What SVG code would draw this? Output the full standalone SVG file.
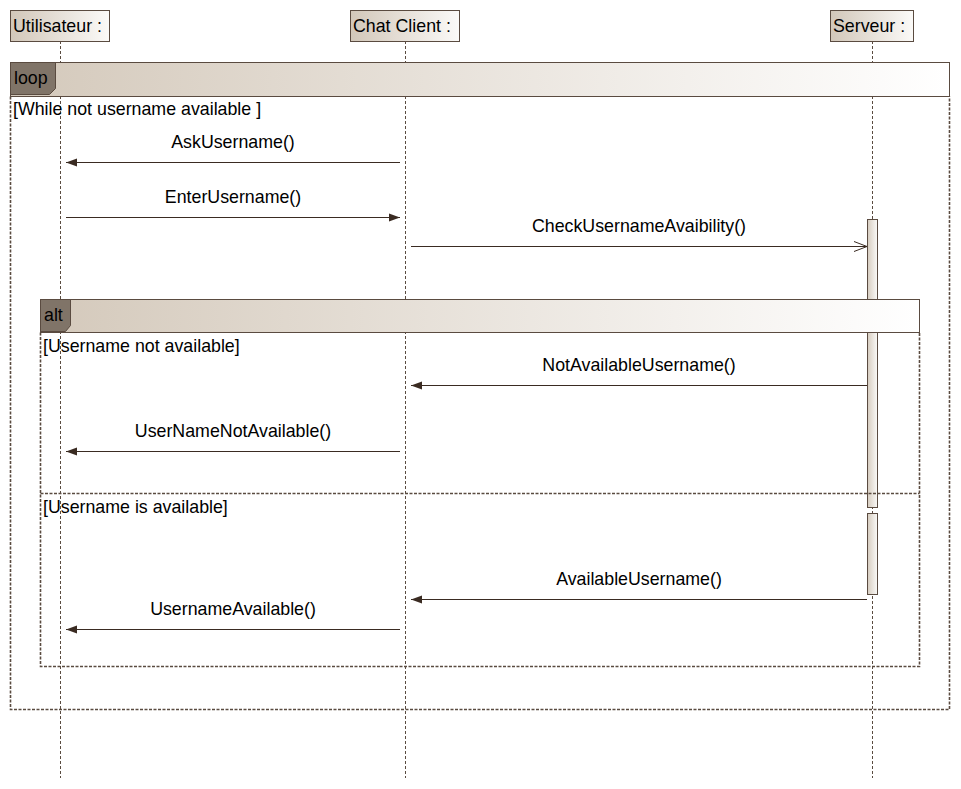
<svg xmlns="http://www.w3.org/2000/svg" width="961" height="789" viewBox="0 0 961 789">
<defs>
<linearGradient id="gBox" x1="0" y1="0" x2="1" y2="0"><stop offset="0" stop-color="#d2c7b9"/><stop offset="1" stop-color="#fbfaf8"/></linearGradient>
<linearGradient id="gHead" x1="0" y1="0" x2="1" y2="0"><stop offset="0" stop-color="#d4c9bb"/><stop offset="1" stop-color="#ffffff"/></linearGradient>
<linearGradient id="gAct" x1="0" y1="0" x2="1" y2="0"><stop offset="0" stop-color="#d6ccbf"/><stop offset="1" stop-color="#fbfaf8"/></linearGradient>
<marker id="filled" markerWidth="12" markerHeight="10" refX="11" refY="5" orient="auto" markerUnits="userSpaceOnUse"><path d="M0,1 L11,5 L0,9 Z" fill="#3a2b22"/></marker>
<marker id="open" markerWidth="14" markerHeight="12" refX="13" refY="6" orient="auto" markerUnits="userSpaceOnUse"><path d="M0,1 L13,6 L0,11" fill="none" stroke="#3a2b22" stroke-width="1"/></marker>
<style>
text{font-family:"Liberation Sans",Arial,sans-serif;font-size:17.8px;fill:#000}
.box{fill:url(#gBox);stroke:#5a4b40;stroke-width:1}
.life{stroke:#5a4b40;stroke-width:1;stroke-dasharray:3,2;fill:none}
.msg{stroke:#3a2b22;stroke-width:1.2;fill:none}
.dash{stroke:#5a4b40;stroke-width:1;stroke-dasharray:3,2;fill:none}
.fdash{stroke:#5a4b40;stroke-width:1.6;stroke-dasharray:3,1.5;fill:none}
.head{fill:url(#gHead);stroke:#5a4b40;stroke-width:1}
.tab{fill:#807468;stroke:#5a4b40;stroke-width:1}
.act{fill:url(#gAct);stroke:#5a4b40;stroke-width:1}
.mid{text-anchor:middle}
</style>
</defs>
<rect width="961" height="789" fill="#fff"/>
<g id="lifelines">
<line class="life" x1="60.5" y1="41" x2="60.5" y2="778"/>
<line class="life" x1="405.5" y1="41" x2="405.5" y2="778"/>
<line class="life" x1="872.5" y1="41" x2="872.5" y2="778"/>
</g>
<g id="loop">
<rect class="head" x="10.5" y="62.5" width="939" height="34"/>
<path class="tab" d="M10.5,62.5 H55.5 V88.5 L49.5,94.5 H10.5 Z"/>
<text x="14" y="84">loop</text>
<path class="fdash" d="M10.5,96.5 V709.5 H949.5 V96.5"/>
<line class="dash" x1="10.5" y1="96.5" x2="949.5" y2="96.5"/>
<text x="13" y="115">[While not username available ]</text>
</g>
<g id="participants">
<g id="utilisateur"><rect class="box" x="10.5" y="10.5" width="99" height="31"/><text x="13" y="32">Utilisateur :</text></g>
<g id="chatclient"><rect class="box" x="350.5" y="10.5" width="109" height="31"/><text x="353" y="32">Chat Client :</text></g>
<g id="serveur"><rect class="box" x="830.5" y="10.5" width="83" height="31"/><text x="833" y="32">Serveur :</text></g>
</g>
<g id="activations">
<rect class="act" x="867.5" y="219.5" width="10" height="288"/>
</g>
<g id="alt">
<rect class="head" x="40.5" y="299.5" width="879" height="33"/>
<path class="tab" d="M40.5,299.5 H70.5 V325.5 L65.5,331.5 H40.5 Z"/>
<text x="44" y="321">alt</text>
<path class="fdash" d="M40.5,332.5 V666.5 H919.5 V332.5"/>
<line class="dash" x1="40.5" y1="332.5" x2="919.5" y2="332.5"/>
<line class="fdash" x1="40.5" y1="493.5" x2="919.5" y2="493.5"/>
<text x="43" y="352">[Username not available]</text>
<text x="43" y="513">[Username is available]</text>
</g>
<g id="activations2">
<rect class="act" x="867.5" y="513.5" width="10" height="81"/>
</g>
<g id="connectors">
<line class="msg" x1="400" y1="162.5" x2="66" y2="162.5" marker-end="url(#filled)"/>
<text class="mid" x="233" y="148">AskUsername()</text>
<line class="msg" x1="66" y1="217.5" x2="400" y2="217.5" marker-end="url(#filled)"/>
<text class="mid" x="233" y="203">EnterUsername()</text>
<line class="msg" x1="411" y1="246.5" x2="867" y2="246.5" marker-end="url(#open)"/>
<text class="mid" x="639" y="232">CheckUsernameAvaibility()</text>
<line class="msg" x1="867" y1="385.5" x2="411" y2="385.5" marker-end="url(#filled)"/>
<text class="mid" x="639" y="371">NotAvailableUsername()</text>
<line class="msg" x1="400" y1="451.5" x2="66" y2="451.5" marker-end="url(#filled)"/>
<text class="mid" x="233" y="437">UserNameNotAvailable()</text>
<line class="msg" x1="867" y1="599.5" x2="411" y2="599.5" marker-end="url(#filled)"/>
<text class="mid" x="639" y="585">AvailableUsername()</text>
<line class="msg" x1="400" y1="629.5" x2="66" y2="629.5" marker-end="url(#filled)"/>
<text class="mid" x="233" y="615">UsernameAvailable()</text>
</g>
</svg>
